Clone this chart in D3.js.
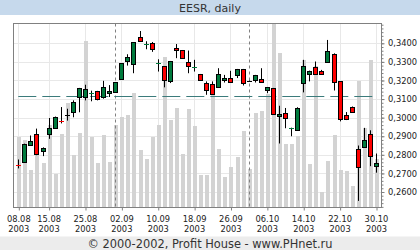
<!DOCTYPE html>
<html>
<head>
<meta charset="utf-8">
<script src="https://cdn.jsdelivr.net/npm/d3@7"></script>
<style>
  body { margin: 0; background: #fff; }
  svg { display: block; }
</style>
</head>
<body>
<div id="chart"></div>
<script>
// trading days, 08.08.2003 - 30.10.2003
var dates = ["08.08","11.08","12.08","13.08","14.08","15.08","18.08","19.08","20.08","21.08","22.08",
  "25.08","26.08","27.08","28.08","29.08",
  "01.09","02.09","03.09","04.09","05.09","08.09","09.09","10.09","11.09","12.09",
  "15.09","16.09","17.09","18.09","19.09","22.09","23.09","24.09","25.09","26.09","29.09","30.09",
  "01.10","02.10","03.10","06.10","07.10","08.10","09.10","10.10","13.10","14.10","15.10","16.10","17.10",
  "20.10","21.10","22.10","23.10","24.10","27.10","28.10","29.10","30.10"];

var open  = [0.2744,0.2762,0.2855,0.2913,0.2821,0.2913,0.2945,0.2985,0.3016,0.3030,0.3111,0.3111,0.3130,0.3143,0.3111,0.3132,
  0.3138,0.3207,0.3302,0.3288,0.3432,0.3393,0.3400,0.3292,0.3277,0.3195,0.3373,0.3363,0.3300,0.3270,0.3234,0.3189,0.3180,0.3164,0.3202,0.3211,0.3229,0.3261,
  0.3198,0.3202,0.3207,0.3148,0.3159,0.3007,0.3025,0.2943,0.2934,0.3186,0.3234,0.3271,0.3252,0.3296,0.3341,0.3195,0.3012,0.3055,0.2832,0.2846,0.2913,0.2739];
var high  = [0.2775,0.2860,0.2904,0.2941,0.2840,0.2998,0.3006,0.3057,0.3048,0.3093,0.3160,0.3177,0.3145,0.3144,0.3198,0.3175,
  0.3192,0.3294,0.3341,0.3406,0.3466,0.3411,0.3407,0.3314,0.3278,0.3305,0.3396,0.3364,0.3361,0.3311,0.3235,0.3195,0.3195,0.3266,0.3230,0.3252,0.3262,0.3262,
  0.3200,0.3230,0.3266,0.3165,0.3160,0.3064,0.3052,0.2946,0.3056,0.3311,0.3253,0.3302,0.3257,0.3418,0.3346,0.3196,0.3030,0.3060,0.2850,0.2945,0.2932,0.2807];
var low   = [0.2727,0.2760,0.2850,0.2798,0.2793,0.2886,0.2943,0.2969,0.2984,0.3002,0.3029,0.3093,0.3088,0.3093,0.3102,0.3111,
  0.3137,0.3206,0.3280,0.3239,0.3408,0.3368,0.3354,0.3248,0.3163,0.3186,0.3320,0.3318,0.3239,0.3248,0.3200,0.3123,0.3126,0.3163,0.3189,0.3190,0.3213,0.3173,
  0.3196,0.3189,0.3190,0.3132,0.3019,0.2861,0.2943,0.2900,0.2933,0.3136,0.3195,0.3233,0.3237,0.3295,0.3146,0.2980,0.2987,0.3029,0.2552,0.2845,0.2739,0.2704];
var close = [0.2742,0.2859,0.2877,0.2805,0.2839,0.2945,0.3004,0.2983,0.3016,0.3082,0.3159,0.3154,0.3133,0.3098,0.3164,0.3145,
  0.3191,0.3293,0.3325,0.3405,0.3411,0.3396,0.3368,0.3294,0.3202,0.3304,0.3361,0.3320,0.3280,0.3272,0.3204,0.3154,0.3127,0.3234,0.3213,0.3191,0.3261,0.3186,
  0.3198,0.3229,0.3191,0.3164,0.3020,0.3020,0.2996,0.2945,0.3052,0.3279,0.3252,0.3234,0.3238,0.3357,0.3191,0.2993,0.2988,0.3030,0.2736,0.2882,0.2793,0.2754];
// volume, relative units (no scale shown on the chart)
var volume = [38.5,36.7,20.4,36.7,24.1,44.8,18.3,40.0,56.6,28.6,40.3,90.6,38.5,24.1,39.4,24.6,
  44.8,49.3,50.3,62.4,31.3,26.2,38.5,44.8,81.6,47.6,53.9,29.1,53.4,44.3,17.7,17.7,64.9,31.7,16.5,21.9,27.7,41.6,
  20.8,51.2,52.6,61.5,100,83.9,34.5,34.5,38.9,80.1,23.9,76.8,8.5,25.3,39.4,20.4,19.9,11.8,68.9,43.2,80.1,26.2];

var yTicks = [0.26,0.27,0.28,0.29,0.30,0.31,0.32,0.33,0.34];
var xTickLabels = ["08.08","15.08","25.08","02.09","10.09","18.09","26.09","06.10","14.10","22.10","30.10"];
var monthStarts = ["01.09","01.10"];
var avgLevel = 0.3118;

var W = 420, H = 250;
var plot = {left: 13.5, top: 23.5, right: 381.5, bottom: 207.5};

var svg = d3.select("#chart").append("svg")
    .attr("width", W)
    .attr("height", H);

// title bar
svg.append("rect").attr("x", 0).attr("y", 0).attr("width", W).attr("height", 15).attr("fill", "#c6d9ec");
svg.append("text")
    .attr("x", W / 2).attr("y", 11.5)
    .attr("text-anchor", "middle")
    .style("font-family", "DejaVu Sans").style("font-size", "11px").attr("fill", "#333")
    .text("EESR, daily");

// footer
svg.append("rect").attr("x", 0).attr("y", 236.5).attr("width", W).attr("height", H - 236.5).attr("fill", "#ececec");
svg.append("text")
    .attr("x", W / 2).attr("y", 247.5)
    .attr("text-anchor", "middle")
    .style("font-family", "DejaVu Sans").style("font-size", "11.4px").attr("fill", "#333")
    .text("\u00a9 2000-2002, Profit House - www.PHnet.ru");

// scales
var x = d3.scalePoint().domain(dates).range([18.3, 376]);
var y = d3.scaleLinear().domain([0.25166, 0.35065]).range([plot.bottom, plot.top]);
var yVol = d3.scaleLinear().domain([0, 100]).range([plot.bottom, plot.top]);

var px = function(d) { return Math.round(x(d)); };

// grid
var grid = svg.append("g");
grid.selectAll(".hg").data(yTicks).enter().append("line")
    .attr("x1", plot.left).attr("x2", plot.right)
    .attr("y1", function(d) { return Math.round(y(d)) + 0.5; })
    .attr("y2", function(d) { return Math.round(y(d)) + 0.5; })
    .attr("stroke", "#e8e8e8");
grid.selectAll(".vg").data(xTickLabels).enter().append("line")
    .attr("x1", function(d) { return px(d) + 0.5; })
    .attr("x2", function(d) { return px(d) + 0.5; })
    .attr("y1", plot.top).attr("y2", plot.bottom)
    .attr("stroke", "#e8e8e8");

// volume bars
svg.append("g").selectAll("rect")
    .data(dates).enter().append("rect")
    .attr("x", function(d) { return px(d) - 1.5; })
    .attr("width", 4)
    .attr("y", function(d, i) { return yVol(volume[i]); })
    .attr("height", function(d, i) { return plot.bottom - yVol(volume[i]); })
    .attr("fill", "#d3d3d3")
    .attr("shape-rendering", "crispEdges");

// month separators
svg.append("g").selectAll("line")
    .data(monthStarts).enter().append("line")
    .attr("x1", function(d) { return px(d) + 0.5; })
    .attr("x2", function(d) { return px(d) + 0.5; })
    .attr("y1", plot.top).attr("y2", plot.bottom)
    .attr("stroke", "#808080")
    .attr("stroke-dasharray", "3,3");

// level line
svg.append("line")
    .attr("x1", x(dates[0])).attr("x2", x(dates[dates.length - 1]))
    .attr("y1", Math.round(y(avgLevel)) + 0.5).attr("y2", Math.round(y(avgLevel)) + 0.5)
    .attr("stroke", "#3b7b7b")
    .attr("stroke-width", 1.2)
    .attr("stroke-dasharray", "18,6");

// candles
var candles = svg.append("g").selectAll("g")
    .data(dates).enter().append("g");

candles.append("line")
    .attr("x1", function(d) { return px(d) + 0.5; })
    .attr("x2", function(d) { return px(d) + 0.5; })
    .attr("y1", function(d, i) { return y(high[i]); })
    .attr("y2", function(d, i) { return y(low[i]); })
    .attr("stroke", "#000");

candles.each(function(d, i) {
  var g = d3.select(this);
  var c = px(d);
  var yo = y(open[i]), yc = y(close[i]);
  var col = close[i] > open[i] ? "#007a3d" : (close[i] < open[i] ? "#ff0000" : "#000");
  if (Math.abs(yo - yc) < 1.5) {
    var yy = Math.round((yo + yc) / 2) + 0.5;
    g.append("line")
      .attr("x1", c - 2).attr("x2", c + 3)
      .attr("y1", yy).attr("y2", yy)
      .attr("stroke", col);
  } else {
    g.append("rect")
      .attr("x", c - 1.5)
      .attr("width", 4)
      .attr("y", Math.round(Math.min(yo, yc)) + 0.5)
      .attr("height", Math.round(Math.abs(yo - yc)))
      .attr("fill", col)
      .attr("stroke", "#000");
  }
});

// frame
svg.append("rect")
    .attr("x", plot.left).attr("y", plot.top)
    .attr("width", plot.right - plot.left).attr("height", plot.bottom - plot.top)
    .attr("fill", "none").attr("stroke", "#808080");

// right axis: minor and major ticks
var fmt = function(d) { return d3.format(".4f")(d).replace(".", ","); };
var minorTicks = d3.range(0.252, 0.3505, 0.002);
svg.append("g")
    .attr("transform", "translate(" + plot.right + ",0)")
    .call(d3.axisRight(y).tickValues(minorTicks).tickSize(2).tickFormat(""))
    .call(function(g) { g.select(".domain").remove(); g.selectAll("line").attr("stroke", "#808080"); });
svg.append("g")
    .attr("transform", "translate(" + plot.right + ",0)")
    .call(d3.axisRight(y).tickValues(yTicks).tickSize(3).tickPadding(3.5).tickFormat(fmt))
    .call(function(g) {
      g.select(".domain").remove();
      g.selectAll("line").attr("stroke", "#808080");
      g.selectAll("text").style("font-family", "DejaVu Sans").style("font-size", "8.3px").attr("fill", "#222");
    });

// bottom axis with two-line labels
svg.append("g")
    .attr("transform", "translate(0," + plot.bottom + ")")
    .call(d3.axisBottom(x).tickValues(xTickLabels).tickSize(3).tickFormat(""))
    .call(function(g) {
      g.select(".domain").remove();
      g.selectAll("line").attr("stroke", "#808080").attr("transform", "translate(0.5,0)");
    });

var xl = svg.append("g").selectAll("text")
    .data(xTickLabels).enter().append("text")
    .attr("x", function(d) { return x(d) + 0.5; })
    .attr("text-anchor", "middle")
    .style("font-family", "DejaVu Sans").style("font-size", "8.3px").attr("fill", "#222");
xl.append("tspan").attr("x", function(d) { return x(d) + 0.5; }).attr("y", 221.7).text(function(d) { return d; });
xl.append("tspan").attr("x", function(d) { return x(d) + 0.5; }).attr("y", 232.3).text("2003");
</script>
</body>
</html>
